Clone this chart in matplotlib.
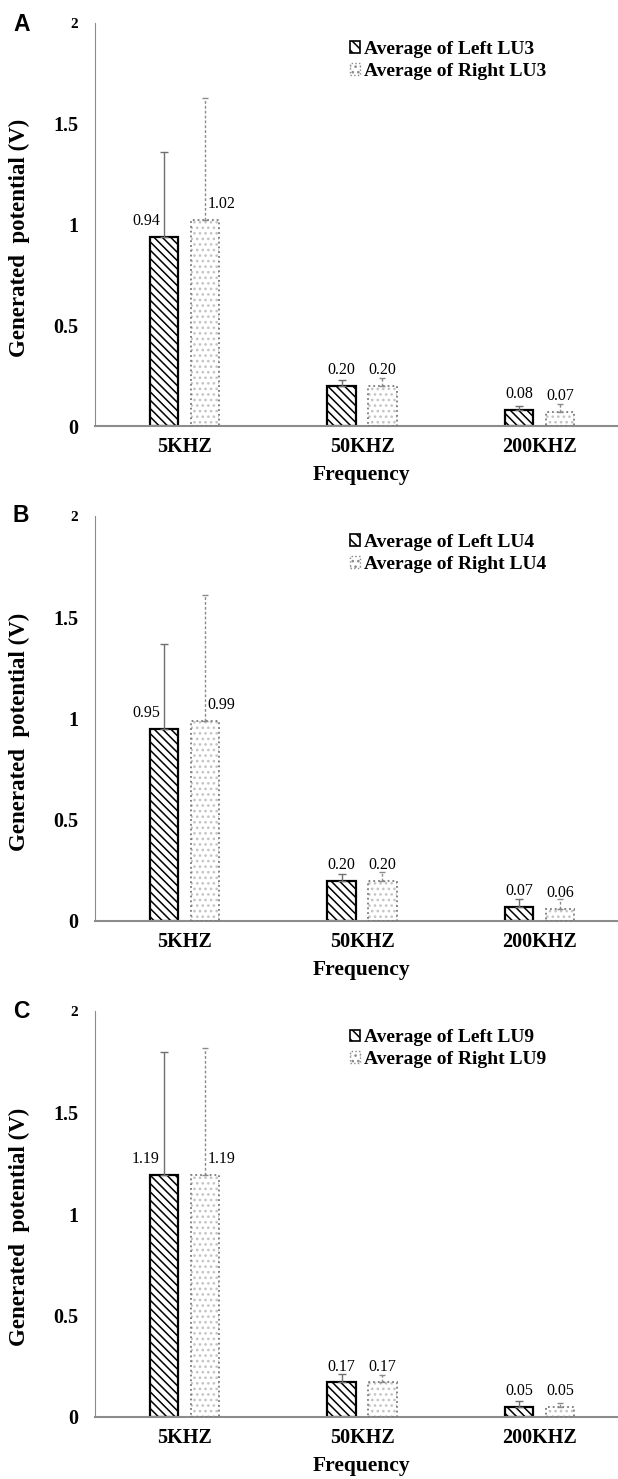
import numpy as np
import matplotlib.pyplot as plt
from matplotlib.patches import Patch

plt.rcParams['font.family'] = ['Liberation Serif', 'DejaVu Serif']
plt.rcParams['hatch.linewidth'] = 1.1

# data
freqs = ['5KHZ', '50KHZ', '200KHZ']

left_A = [0.94, 0.20, 0.08]
right_A = [1.02, 0.20, 0.07]
err_left_A = [0.42, 0.03, 0.02]
err_right_A = [0.61, 0.04, 0.04]

left_B = [0.95, 0.20, 0.07]
right_B = [0.99, 0.20, 0.06]
err_left_B = [0.42, 0.03, 0.04]
err_right_B = [0.62, 0.04, 0.05]

left_C = [1.19, 0.17, 0.05]
right_C = [1.19, 0.17, 0.05]
err_left_C = [0.61, 0.04, 0.03]
err_right_C = [0.63, 0.035, 0.02]

panels = [
    ('A', 'LU3', left_A, right_A, err_left_A, err_right_A),
    ('B', 'LU4', left_B, right_B, err_left_B, err_right_B),
    ('C', 'LU9', left_C, right_C, err_left_C, err_right_C),
]

W, H = 618.0, 1479.0
fig = plt.figure(figsize=(W / 100, H / 100), dpi=100)

axes_px = [(23, 426), (516, 921), (1011, 1417)]   # top, bottom (pixels)
letter_px = [(13, 31), (13, 522), (13, 1018)]     # x, baseline

x = np.arange(len(freqs))
bw = 0.16
off = 0.115
lab_dx_l = [-13, 0, 0]   # label shifts (points) so they clear the error bars
lab_dx_r = [12, 0, 0]

for (letter, site, left, right, el, er), (top, bot), (lx, ly) in zip(panels, axes_px, letter_px):
    ax = fig.add_axes([95 / W, 1 - bot / H, 523 / W, (bot - top) / H])

    ax.bar(x - off, left, bw, facecolor='white', edgecolor='black',
           hatch='\\\\\\\\', linewidth=1.6, zorder=2)
    ax.bar(x + off, right, bw, facecolor='white', edgecolor='#c4c4c4',
           hatch='...', linewidth=0, zorder=2)
    ax.bar(x + off, right, bw, fill=False, edgecolor='#7a7a7a',
           linestyle=':', linewidth=1.3, zorder=3)

    ax.errorbar(x - off, left, yerr=[np.zeros(len(x)), el], fmt='none',
                ecolor='#707070', elinewidth=1, capsize=3, capthick=1, zorder=4)
    eb = ax.errorbar(x + off, right, yerr=[np.zeros(len(x)), er], fmt='none',
                     ecolor='#8a8a8a', elinewidth=1, capsize=2, capthick=1, zorder=4)
    eb[2][0].set_linestyle((0, (2, 1.5)))

    for i in range(len(x)):
        ax.annotate(f'{left[i]:.2f}', (x[i] - off, left[i]), xytext=(lab_dx_l[i], 11.5),
                    textcoords='offset points', ha='center', va='center', fontsize=11.5)
        ax.annotate(f'{right[i]:.2f}', (x[i] + off, right[i]), xytext=(lab_dx_r[i], 11.5),
                    textcoords='offset points', ha='center', va='center', fontsize=11.5)

    ax.set_xlim(-0.504, 2.442)
    ax.set_ylim(0, 2)
    ax.set_xticks(x, freqs, fontweight='bold', fontsize=14.5)
    ax.set_yticks([0, 0.5, 1, 1.5, 2], ['0', '0.5', '1', '1.5', '2'],
                  fontweight='bold', fontsize=14.5)
    ax.get_yticklabels()[-1].set_fontsize(11)
    ax.tick_params(axis='x', length=0, pad=8)
    ax.tick_params(axis='y', length=0, pad=12)
    ax.set_xlabel('Frequency', fontweight='bold', fontsize=15.5)
    ax.xaxis.set_label_coords(0.51, -0.096)
    ax.xaxis.label.set_va('top')
    ax.set_ylabel('Generated  potential (V)', fontweight='bold', fontsize=16.5)
    ax.yaxis.set_label_coords(-0.124, 0.468)

    for s in ['top', 'right']:
        ax.spines[s].set_visible(False)
    ax.spines['left'].set_color('#8c8c8c')
    ax.spines['left'].set_linewidth(0.8)
    ax.spines['bottom'].set_color('#8c8c8c')
    ax.spines['bottom'].set_linewidth(1.5)

    handles = [
        Patch(facecolor='white', edgecolor='black', hatch='\\\\\\', linewidth=1.2),
        Patch(facecolor='white', edgecolor='#8a8a8a', hatch='...', linestyle=':', linewidth=1),
    ]
    ax.legend(handles, ['Average of Left ' + site, 'Average of Right ' + site],
              loc='upper left', bbox_to_anchor=(0.487, 0.955), frameon=False,
              borderpad=0, handlelength=0.55, handleheight=0.55, handletextpad=0.2,
              labelspacing=0.25, borderaxespad=0,
              prop={'weight': 'bold', 'size': 14, 'family': 'Liberation Serif'})

    fig.text(lx / W, 1 - ly / H, letter, fontsize=16.5, fontweight='bold',
             family='Liberation Sans', va='baseline', ha='left')

fig.savefig('out.png', dpi=100)
